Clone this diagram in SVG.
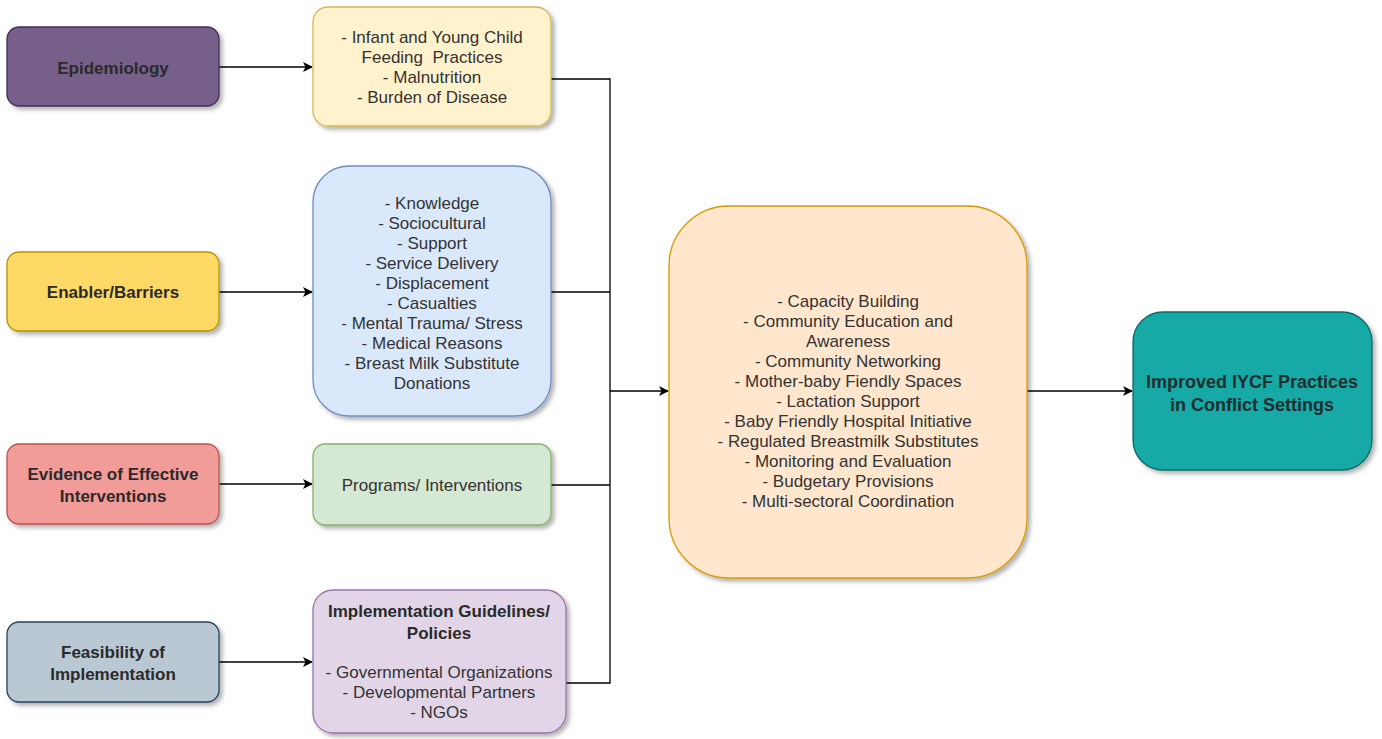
<svg xmlns="http://www.w3.org/2000/svg" width="1382" height="739" viewBox="0 0 1382 739">
  <defs>
    <filter id="shadow" x="-10%" y="-10%" width="130%" height="130%">
      <feDropShadow dx="3" dy="3" stdDeviation="2" flood-color="#000" flood-opacity="0.3"/>
    </filter>
    <marker id="arrow" viewBox="0 0 10 10" refX="9" refY="5" markerWidth="10" markerHeight="10" markerUnits="userSpaceOnUse" orient="auto">
      <path d="M0,0 L10,5 L0,10 L2.5,5 Z" fill="#000"/>
    </marker>
    <style>
      .box { stroke-width: 1.3; filter: url(#shadow); }
      text { font-family: "Liberation Sans", Arial, sans-serif; font-size: 17px; fill: #333; text-anchor: middle; }
      .b { font-weight: bold; fill: #2a2a2a; }
      .dark { fill: #1c2e2e; }
      .edge { fill: none; stroke: #000; stroke-width: 1.3; }
    </style>
  </defs>
  <rect width="1382" height="739" fill="#fff"/>

  <!-- connectors -->
  <g id="connectors">
    <line class="edge" x1="219" y1="67" x2="312" y2="67" marker-end="url(#arrow)"/>
    <line class="edge" x1="219" y1="292" x2="312" y2="292" marker-end="url(#arrow)"/>
    <line class="edge" x1="219" y1="484" x2="312" y2="484" marker-end="url(#arrow)"/>
    <line class="edge" x1="219" y1="662" x2="312" y2="662" marker-end="url(#arrow)"/>
    <polyline class="edge" points="551,79 610,79 610,683 566,683"/>
    <line class="edge" x1="551" y1="292" x2="610" y2="292"/>
    <line class="edge" x1="551" y1="485" x2="610" y2="485"/>
    <line class="edge" x1="610" y1="391" x2="668" y2="391" marker-end="url(#arrow)"/>
    <line class="edge" x1="1027" y1="391" x2="1132" y2="391" marker-end="url(#arrow)"/>
  </g>

  <!-- left column -->
  <g id="epidemiology">
    <rect class="box" x="7" y="27" width="212" height="79" rx="12" fill="#76608a" stroke="#432d57"/>
    <text class="b" x="113" y="74">Epidemiology</text>
  </g>
  <g id="enablers">
    <rect class="box" x="7" y="252" width="212" height="79" rx="12" fill="#ffd966" stroke="#b09500"/>
    <text class="b" x="113" y="298">Enabler/Barriers</text>
  </g>
  <g id="evidence">
    <rect class="box" x="7" y="444" width="212" height="80" rx="12" fill="#f19c99" stroke="#b85450"/>
    <text class="b" x="113" y="480">Evidence of Effective</text>
    <text class="b" x="113" y="502">Interventions</text>
  </g>
  <g id="feasibility">
    <rect class="box" x="7" y="622" width="212" height="80" rx="12" fill="#bac8d3" stroke="#23445d"/>
    <text class="b" x="113" y="658">Feasibility of</text>
    <text class="b" x="113" y="680">Implementation</text>
  </g>

  <!-- middle column -->
  <g id="iycf-status">
    <rect class="box" x="313" y="7" width="238" height="119" rx="15" fill="#fff2cc" stroke="#d6b656"/>
    <text x="432" y="43">- Infant and Young Child</text>
    <text x="432" y="63" xml:space="preserve">Feeding  Practices</text>
    <text x="432" y="83">- Malnutrition</text>
    <text x="432" y="103">- Burden of Disease</text>
  </g>
  <g id="factors">
    <rect class="box" x="313" y="166" width="238" height="250" rx="36" fill="#dae8fc" stroke="#6c8ebf"/>
    <text x="432" y="209">- Knowledge</text>
    <text x="432" y="229">- Sociocultural</text>
    <text x="432" y="249">- Support</text>
    <text x="432" y="269">- Service Delivery</text>
    <text x="432" y="289">- Displacement</text>
    <text x="432" y="309">- Casualties</text>
    <text x="432" y="329">- Mental Trauma/ Stress</text>
    <text x="432" y="349">- Medical Reasons</text>
    <text x="432" y="369">- Breast Milk Substitute</text>
    <text x="432" y="389">Donations</text>
  </g>
  <g id="programs">
    <rect class="box" x="313" y="444" width="238" height="81" rx="12" fill="#d5e8d4" stroke="#82b366"/>
    <text x="432" y="491">Programs/ Interventions</text>
  </g>
  <g id="guidelines">
    <rect class="box" x="313" y="590" width="253" height="143" rx="20" fill="#e1d5e7" stroke="#9673a6"/>
    <text class="b" x="439" y="617">Implementation Guidelines/</text>
    <text class="b" x="439" y="639">Policies</text>
    <text x="439" y="678">- Governmental Organizations</text>
    <text x="439" y="698">- Developmental Partners</text>
    <text x="439" y="718">- NGOs</text>
  </g>

  <!-- strategies -->
  <g id="strategies">
    <rect class="box" x="669" y="206" width="358" height="372" rx="60" fill="#ffe6cc" stroke="#d79b00"/>
    <text x="848" y="307">- Capacity Building</text>
    <text x="848" y="327">- Community Education and</text>
    <text x="848" y="347">Awareness</text>
    <text x="848" y="367">- Community Networking</text>
    <text x="848" y="387">- Mother-baby Fiendly Spaces</text>
    <text x="848" y="407">- Lactation Support</text>
    <text x="848" y="427">- Baby Friendly Hospital Initiative</text>
    <text x="848" y="447">- Regulated Breastmilk Substitutes</text>
    <text x="848" y="467">- Monitoring and Evaluation</text>
    <text x="848" y="487">- Budgetary Provisions</text>
    <text x="848" y="507">- Multi-sectoral Coordination</text>
  </g>

  <!-- outcome -->
  <g id="outcome">
    <rect class="box" x="1133" y="312" width="239" height="158" rx="30" fill="#13a9a6" stroke="#0e6a68"/>
    <text class="b dark" x="1252" y="388" style="font-size:18px">Improved IYCF Practices</text>
    <text class="b dark" x="1252" y="411" style="font-size:18px">in Conflict Settings</text>
  </g>
</svg>
